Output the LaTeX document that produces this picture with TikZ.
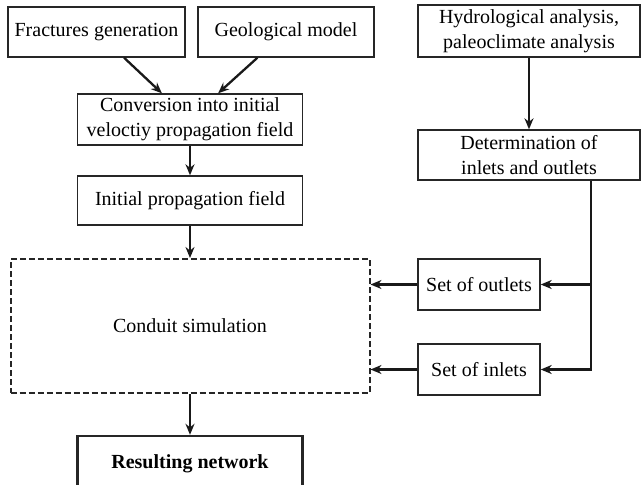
\documentclass[tikz,border=0pt]{standalone}
\usepackage{fontspec}
\setmainfont{Liberation Serif}
\usepackage{tikz}
\usetikzlibrary{arrows.meta}

\begin{document}
\begin{tikzpicture}[x=1pt,y=-1pt,>={Stealth[length=11pt,width=9pt]},
  stepbox/.style={draw=black!85,line width=1.4pt,inner sep=2pt,align=center,font=\fontsize{20}{25}\selectfont},
  simbox/.style={draw=black!85,dashed,dash pattern=on 6pt off 3pt,line width=2pt,font=\fontsize{20}{25}\selectfont},
  resbox/.style={stepbox,line width=2.4pt,font=\fontsize{20}{25}\selectfont\bfseries},
  flow/.style={->,line width=2.3pt,black!90}]
  \useasboundingbox (0,0) rectangle (641,485);
  \node[stepbox,minimum width=177pt,minimum height=50pt] (frac) at (96.5,32) {Fractures generation};
  \node[stepbox,minimum width=176pt,minimum height=50pt] (geo) at (286,32) {Geological model};
  \node[stepbox,minimum width=222pt,minimum height=52pt] (hydro) at (529,31) {Hydrological analysis,\\paleoclimate analysis};
  \node[stepbox,minimum width=225pt,minimum height=51pt] (conv) at (190,119.5) {Conversion into initial\\veloctiy propagation field};
  \node[stepbox,minimum width=222pt,minimum height=50pt] (determ) at (529,155) {Determination of\\inlets and outlets};
  \node[stepbox,minimum width=225pt,minimum height=49pt] (init) at (190,200.5) {Initial propagation field};
  \node[simbox,minimum width=359pt,minimum height=134pt] (conduit) at (190,326) {Conduit simulation};
  \node[stepbox,minimum width=122pt,minimum height=51pt] (outlets) at (479,284.5) {Set of outlets};
  \node[stepbox,minimum width=122pt,minimum height=51pt] (inlets) at (479,369.5) {Set of inlets};
  \node[resbox,minimum width=225pt,minimum height=56pt] (result) at (190,464) {Resulting network};
  \coordinate (split) at (591,284.5);
  \draw[flow] (frac.-43) -- (conv.137);
  \draw[flow] (geo.-138) -- (conv.43);
  \draw[flow] (conv) -- (init);
  \draw[flow] (init) -- (conduit);
  \draw[flow] (hydro) -- (determ);
  \draw[flow] (determ.south -| split) |- (inlets);
  \draw[flow] (split) -- (outlets);
  \draw[flow] (outlets) -- (outlets -| conduit.east);
  \draw[flow] (inlets) -- (inlets -| conduit.east);
  \draw[flow] (conduit) -- (result);
\end{tikzpicture}
\end{document}
